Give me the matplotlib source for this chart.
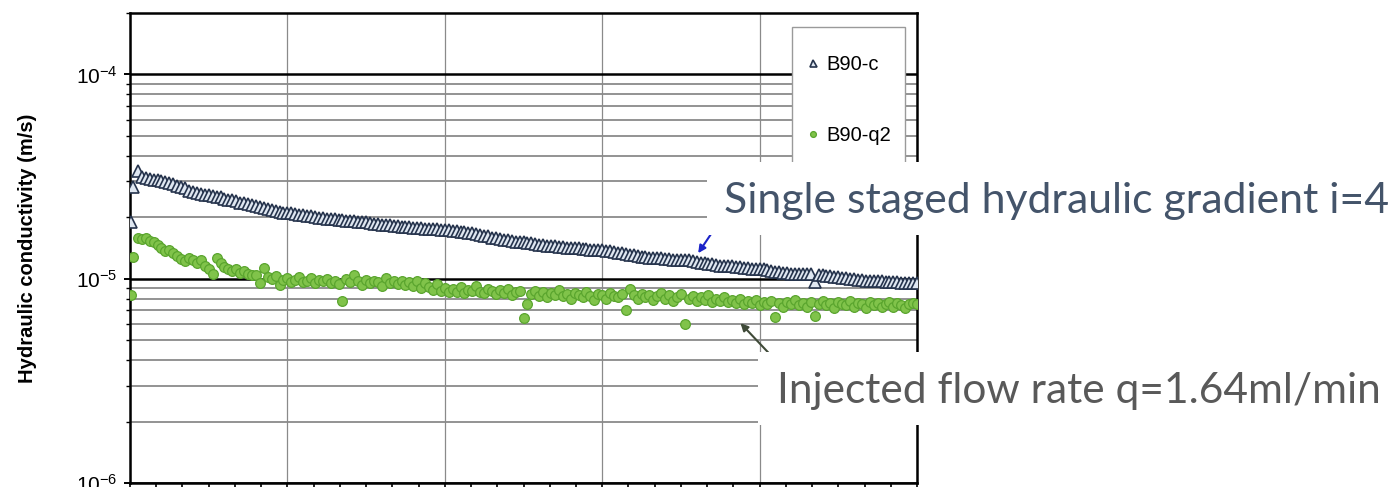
import numpy as np
import matplotlib
matplotlib.use("Agg")
import matplotlib.pyplot as plt
from matplotlib.patches import Rectangle
from matplotlib.ticker import LogLocator, MultipleLocator, NullFormatter

plt.rcParams.update({
    "font.family": ["Liberation Sans", "DejaVu Sans"],
    "mathtext.default": "regular",
    "axes.unicode_minus": False,
})

# first readings right after the start of the test
t_first = [0.3, 1.2]
k_c_first = [19.0, 28.0]      # B90-c, 1e-6 m/s
k_q2_first = [8.3, 12.8]      # B90-q2, 1e-6 m/s

# logger readings, fixed interval
t_step = 1.5
t_start = 3.0

k_c = [
    33.6, 31.6, 31.2, 30.9, 30.6, 30.3, 30.0, 29.6, 29.3, 29.0,
    28.6, 28.2, 27.7, 27.0, 26.5, 26.3, 26.0, 25.8, 25.6, 25.3,
    25.1, 25.0, 24.7, 24.4, 24.2, 23.9, 23.6, 23.4, 23.2, 22.9,
    22.6, 22.4, 22.2, 22.0, 21.7, 21.5, 21.3, 21.1, 21.0, 20.9,
    20.8, 20.6, 20.5, 20.3, 20.2, 20.1, 19.9, 19.8, 19.7, 19.6,
    19.6, 19.5, 19.4, 19.2, 19.2, 19.1, 19.0, 18.9, 18.9, 18.8,
    18.6, 18.5, 18.4, 18.3, 18.3, 18.2, 18.1, 18.0, 18.0, 17.9,
    17.8, 17.8, 17.7, 17.6, 17.6, 17.5, 17.5, 17.4, 17.4, 17.3,
    17.2, 17.1, 17.0, 16.9, 16.8, 16.8, 16.6, 16.4, 16.2, 16.1,
    15.9, 15.8, 15.6, 15.5, 15.4, 15.3, 15.2, 15.2, 15.1, 15.0,
    14.9, 14.8, 14.7, 14.6, 14.5, 14.5, 14.4, 14.3, 14.3, 14.2,
    14.2, 14.1, 14.1, 14.0, 14.0, 13.9, 13.9, 13.8, 13.8, 13.7,
    13.6, 13.5, 13.4, 13.3, 13.2, 13.1, 13.0, 12.9, 12.8, 12.8,
    12.7, 12.7, 12.6, 12.6, 12.5, 12.5, 12.4, 12.4, 12.3, 12.3,
    12.3, 12.2, 12.1, 12.0, 11.9, 11.8, 11.8, 11.7, 11.6, 11.6,
    11.5, 11.5, 11.4, 11.4, 11.3, 11.3, 11.2, 11.2, 11.1, 11.1,
    11.0, 10.9, 10.8, 10.8, 10.7, 10.7, 10.6, 10.6, 10.6, 10.5,
    10.5, 10.5, 9.6, 10.4, 10.4, 10.3, 10.3, 10.2, 10.2, 10.1,
    10.1, 10.0, 10.0, 9.9, 9.9, 9.8, 9.8, 9.7, 9.7, 9.7,
    9.6, 9.6, 9.6, 9.6, 9.5, 9.5, 9.5, 9.5, 9.5,
]

k_q2 = [
    15.8, 15.6, 15.9, 15.3, 15.1, 14.6, 14.2, 13.7, 13.9, 13.3,
    12.9, 12.5, 12.2, 12.6, 12.3, 12.0, 12.3, 11.6, 11.2, 10.6,
    12.6, 11.9, 11.4, 11.2, 10.9, 11.1, 10.7, 10.9, 10.5, 10.4,
    10.4, 9.5, 11.3, 10.2, 10.0, 10.3, 9.3, 9.9, 10.1, 9.6,
    9.9, 10.2, 9.6, 9.8, 10.1, 9.5, 9.9, 9.7, 10.0, 9.5,
    9.8, 9.4, 7.8, 10.0, 9.6, 10.4, 9.7, 9.3, 9.9, 9.5,
    9.8, 9.6, 9.2, 10.1, 9.5, 9.7, 9.4, 9.8, 9.3, 9.6,
    9.2, 9.7, 9.0, 9.5, 9.1, 8.8, 9.4, 8.7, 9.0, 8.6,
    8.9, 8.6, 9.1, 8.5, 8.8, 8.7, 9.2, 8.6, 8.5, 8.9,
    8.7, 8.4, 8.8, 8.5, 8.9, 8.3, 8.6, 8.7, 6.4, 7.5,
    8.4, 8.7, 8.2, 8.6, 8.1, 8.5, 8.3, 8.8, 8.2, 8.4,
    8.0, 8.5, 8.3, 8.1, 8.6, 8.2, 7.9, 8.4, 8.3, 8.0,
    8.5, 8.2, 8.1, 8.4, 7.0, 8.9, 8.3, 8.0, 8.4, 8.1,
    8.3, 7.9, 8.2, 8.5, 8.0, 8.3, 7.8, 8.1, 8.4, 6.0,
    8.0, 8.2, 7.8, 8.1, 7.9, 8.3, 7.7, 8.0, 7.8, 8.1,
    7.7, 7.9, 7.6, 8.0, 7.5, 7.8, 7.6, 7.9, 7.4, 7.7,
    7.5, 7.8, 6.5, 7.6, 7.3, 7.7, 7.5, 7.9, 7.4, 7.6,
    7.3, 7.7, 6.6, 7.5, 7.8, 7.4, 7.6, 7.2, 7.7, 7.5,
    7.4, 7.8, 7.3, 7.6, 7.5, 7.2, 7.7, 7.4, 7.6, 7.3,
    7.5, 7.7, 7.3, 7.6, 7.4, 7.2, 7.5, 7.6, 7.5,
]

t_log = t_start + t_step * np.arange(len(k_c))
t = np.concatenate([t_first, t_log])
kc = np.concatenate([k_c_first, k_c]) * 1e-6
kq = np.concatenate([k_q2_first, k_q2]) * 1e-6

W, H = 1396, 487
fig = plt.figure(figsize=(W / 100, H / 100), dpi=100)
ax = fig.add_axes([130 / W, 4 / H, 787 / W, 470 / H])

ax.set_yscale("log")
ax.set_ylim(1e-6, 2e-4)
ax.set_xlim(0, 300)

pts_q2, = ax.plot(t, kq, ls="none", marker="o", ms=7.0, mfc="#80c34a",
                  mec="#5aa52e", mew=0.9, label="B90-q2", zorder=3)
pts_c, = ax.plot(t, kc, ls="none", marker="^", ms=8.4, mfc="#dfe7f1",
                 mec="#26344d", mew=1.2, label="B90-c", zorder=4)

# grid: black decades, grey sub-decades, grey verticals
ax.yaxis.set_major_locator(LogLocator(base=10, numticks=10))
ax.yaxis.set_minor_locator(LogLocator(base=10, subs=np.arange(2, 10), numticks=10))
ax.yaxis.set_minor_formatter(NullFormatter())
ax.xaxis.set_major_locator(MultipleLocator(60))
ax.xaxis.set_minor_locator(MultipleLocator(10))
ax.grid(True, which="major", axis="y", color="black", lw=1.8)
ax.grid(True, which="minor", axis="y", color="#8a8a8a", lw=1.3)
ax.grid(True, which="major", axis="x", color="#8a8a8a", lw=0.9)
ax.set_axisbelow(True)

for s in ax.spines.values():
    s.set_linewidth(1.8)
ax.tick_params(axis="y", which="major", direction="out", length=4, width=1.4,
               labelsize=15, pad=5)
ax.tick_params(axis="y", which="minor", direction="out", length=3, width=1.0)
ax.tick_params(axis="x", which="both", direction="out", length=6, width=1.2,
               labelbottom=False)

ax.set_ylabel("Hydraulic conductivity (m/s)", fontsize=14.5, fontweight="bold",
              labelpad=28)

# legend frame and entries, B90-c on top
fig.add_artist(Rectangle((792 / W, 1 - 205 / H), 113 / W, 178 / H,
                         transform=fig.transFigure, facecolor="white",
                         edgecolor="#9a9a9a", lw=1.0, zorder=2))
fig.legend([pts_c, pts_q2], ["B90-c", "B90-q2"], loc="center left",
           bbox_to_anchor=(805 / W, 1 - 100 / H), fontsize=14.5, numpoints=1,
           markerscale=0.6, handlelength=0.8, handletextpad=0.25,
           labelspacing=2.6, borderpad=0, borderaxespad=0, frameon=False)

# callout arrows
ax.annotate("", xy=(216, 1.30e-5), xytext=(223, 1.77e-5),
            arrowprops=dict(arrowstyle="-|>", color="#1c24c8", lw=1.5,
                            mutation_scale=11))
ax.annotate("", xy=(232, 6.2e-6), xytext=(246, 4.0e-6),
            arrowprops=dict(arrowstyle="-|>", color="#3f4a38", lw=1.5,
                            mutation_scale=11))

# white text panels over the chart
fig.add_artist(Rectangle((707 / W, 1 - 235 / H), (W - 707) / W, 73 / H,
                         transform=fig.transFigure, facecolor="white",
                         edgecolor="none", zorder=10))
fig.add_artist(Rectangle((758 / W, 1 - 425 / H), (W - 758) / W, 73 / H,
                         transform=fig.transFigure, facecolor="white",
                         edgecolor="none", zorder=10))
fig.text(724 / W, 1 - 213 / H, "Single staged hydraulic gradient i=4",
         fontsize=30.8, color="#44546a", family=["Lato", "DejaVu Sans"],
         ha="left", va="baseline", zorder=11)
fig.text(777 / W, 1 - 403 / H, "Injected flow rate q=1.64ml/min",
         fontsize=30.6, color="#595959", family=["Lato", "DejaVu Sans"],
         ha="left", va="baseline", zorder=11)

fig.savefig("out.png", dpi=100)
